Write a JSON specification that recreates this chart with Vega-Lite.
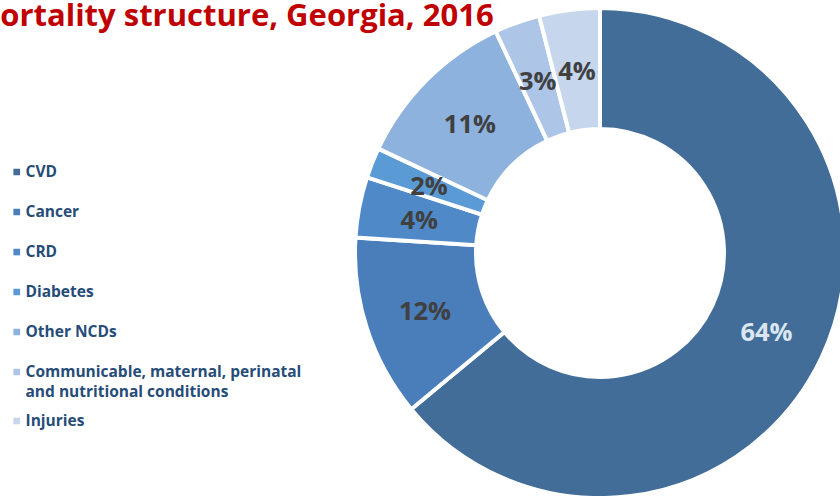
{
  "$schema": "https://vega.github.io/schema/vega-lite/v6.json",
  "width": 490,
  "height": 490,
  "autosize": {"type": "none"},
  "padding": {"left": 355, "top": 8, "right": -5, "bottom": -2},
  "background": "white",
  "title": {
    "text": "Mortality structure, Georgia, 2016",
    "anchor": "start",
    "frame": "group",
    "orient": "top",
    "offset": -57,
    "dx": -384,
    "baseline": "alphabetic",
    "font": "Open Sans",
    "fontSize": 31,
    "fontWeight": "bold",
    "color": "#C00000"
  },
  "data": {
    "values": [
      {"cause": "CVD", "share": 0.64, "idx": 1},
      {"cause": "Cancer", "share": 0.12, "idx": 2},
      {"cause": "CRD", "share": 0.04, "idx": 3},
      {"cause": "Diabetes", "share": 0.02, "idx": 4},
      {"cause": "Other NCDs", "share": 0.11, "idx": 5},
      {"cause": "Communicable, maternal, perinatal and nutritional conditions", "share": 0.03, "idx": 6},
      {"cause": "Injuries", "share": 0.04, "idx": 7}
    ]
  },
  "encoding": {
    "theta": {"field": "share", "type": "quantitative", "stack": true},
    "order": {"field": "idx", "type": "quantitative"}
  },
  "layer": [
    {
      "mark": {"type": "arc", "innerRadius": 124, "outerRadius": 245, "stroke": "white", "strokeWidth": 4},
      "encoding": {
        "color": {
          "field": "cause",
          "type": "nominal",
          "scale": {
            "domain": ["CVD", "Cancer", "CRD", "Diabetes", "Other NCDs", "Communicable, maternal, perinatal and nutritional conditions", "Injuries"],
            "range": ["#416D98", "#4A7EBB", "#4F89C8", "#5A9BD5", "#8DB2DD", "#ADC5E6", "#C6D6EC"]
          },
          "legend": {
            "title": null,
            "orient": "none",
            "legendX": -346,
            "legendY": 144,
            "padding": 0,
            "clipHeight": 40,
            "rowPadding": 0,
            "symbolType": "square",
            "symbolSize": 45,
            "symbolStrokeWidth": 0,
            "labelFont": "Open Sans",
            "labelFontSize": 15.5,
            "labelFontWeight": "bold",
            "labelColor": "#264C78",
            "labelOffset": 1,
            "labelLimit": 400,
            "labelExpr": "datum.label == 'Communicable, maternal, perinatal and nutritional conditions' ? ['Communicable, maternal, perinatal', 'and nutritional conditions'] : datum.label"
          }
        }
      }
    },
    {
      "mark": {"type": "text", "radius": 184, "dy": 2, "font": "Open Sans", "fontSize": 25.5, "fontWeight": "bold"},
      "encoding": {
        "detail": {"field": "cause", "type": "nominal"},
        "text": {"field": "share", "type": "quantitative", "format": ".0%"},
        "color": {
          "condition": {"test": "datum.cause === 'CVD'", "value": "#DCE6F2"},
          "value": "#404040"
        }
      }
    }
  ],
  "config": {
    "view": {"stroke": null},
    "style": {"guide-label": {"lineHeight": 20}}
  }
}
